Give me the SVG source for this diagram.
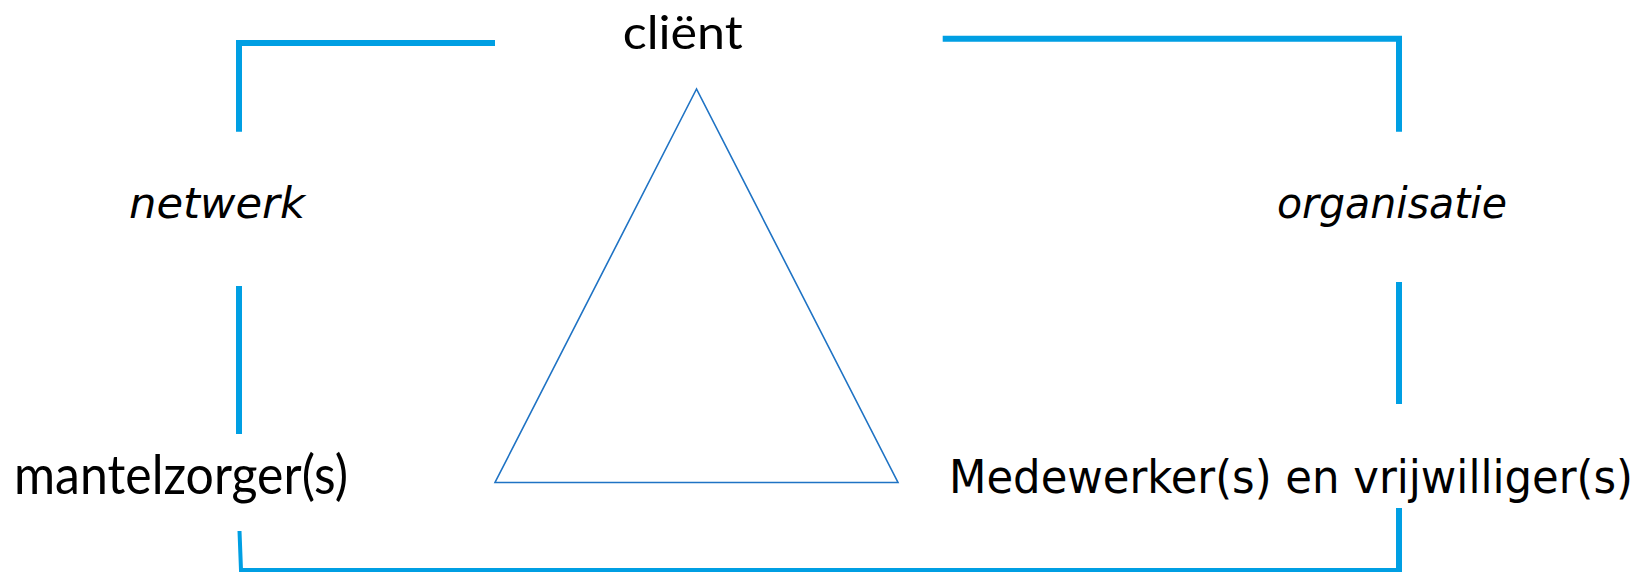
<svg xmlns="http://www.w3.org/2000/svg" width="1641" height="573" viewBox="0 0 1641 573">
<style>
.frame{fill:none;stroke:#009FE3;stroke-width:6;stroke-linecap:butt;stroke-linejoin:miter}
.thin{stroke-width:4}
.tri{fill:none;stroke:#1F73C4;stroke-width:1.6;stroke-linejoin:miter}
.lbl{font-family:Lato,"Open Sans","Liberation Sans",sans-serif;fill:#000}
.lbl2{font-family:"DejaVu Sans Condensed","DejaVu Sans","Liberation Sans",sans-serif;font-stretch:condensed;fill:#000}
.it{font-family:"DejaVu Sans","Liberation Sans",sans-serif;font-style:italic;fill:#000}
</style>
<rect width="1641" height="573" fill="#fff"/>
<g id="connectors">
  <polyline class="frame" points="239,131.7 239,43 495,43"/>
  <polyline class="frame" points="942.7,38.7 1399,38.7 1399,131.7"/>
  <line class="frame" x1="239" y1="286" x2="239" y2="434"/>
  <line class="frame" x1="1399" y1="282" x2="1399" y2="404"/>
  <polyline class="frame thin" points="239.5,531 241,570 1399,570"/>
  <line class="frame" x1="1399" y1="508" x2="1399" y2="572"/>
</g>
<g id="triangle">
  <polygon class="tri" points="696.5,89 495,482.5 898,482.5"/>
</g>
<g id="client">
  <text class="lbl" x="622.7" y="48.5" font-size="47" textLength="120" lengthAdjust="spacingAndGlyphs">cliënt</text>
</g>
<g id="netwerk">
  <text class="it" x="129" y="218" font-size="43" textLength="176" lengthAdjust="spacingAndGlyphs">netwerk</text>
</g>
<g id="organisatie">
  <text class="it" x="1277" y="218" font-size="43" textLength="230" lengthAdjust="spacingAndGlyphs">organisatie</text>
</g>
<g id="mantelzorger">
  <text class="lbl" x="14" y="494" font-size="55" textLength="334" lengthAdjust="spacingAndGlyphs">mantelzorger(s)</text>
</g>
<g id="medewerkers">
  <text class="lbl2" x="949" y="493" font-size="46" textLength="684" lengthAdjust="spacingAndGlyphs">Medewerker(s) en vrijwilliger(s)</text>
</g>
</svg>
